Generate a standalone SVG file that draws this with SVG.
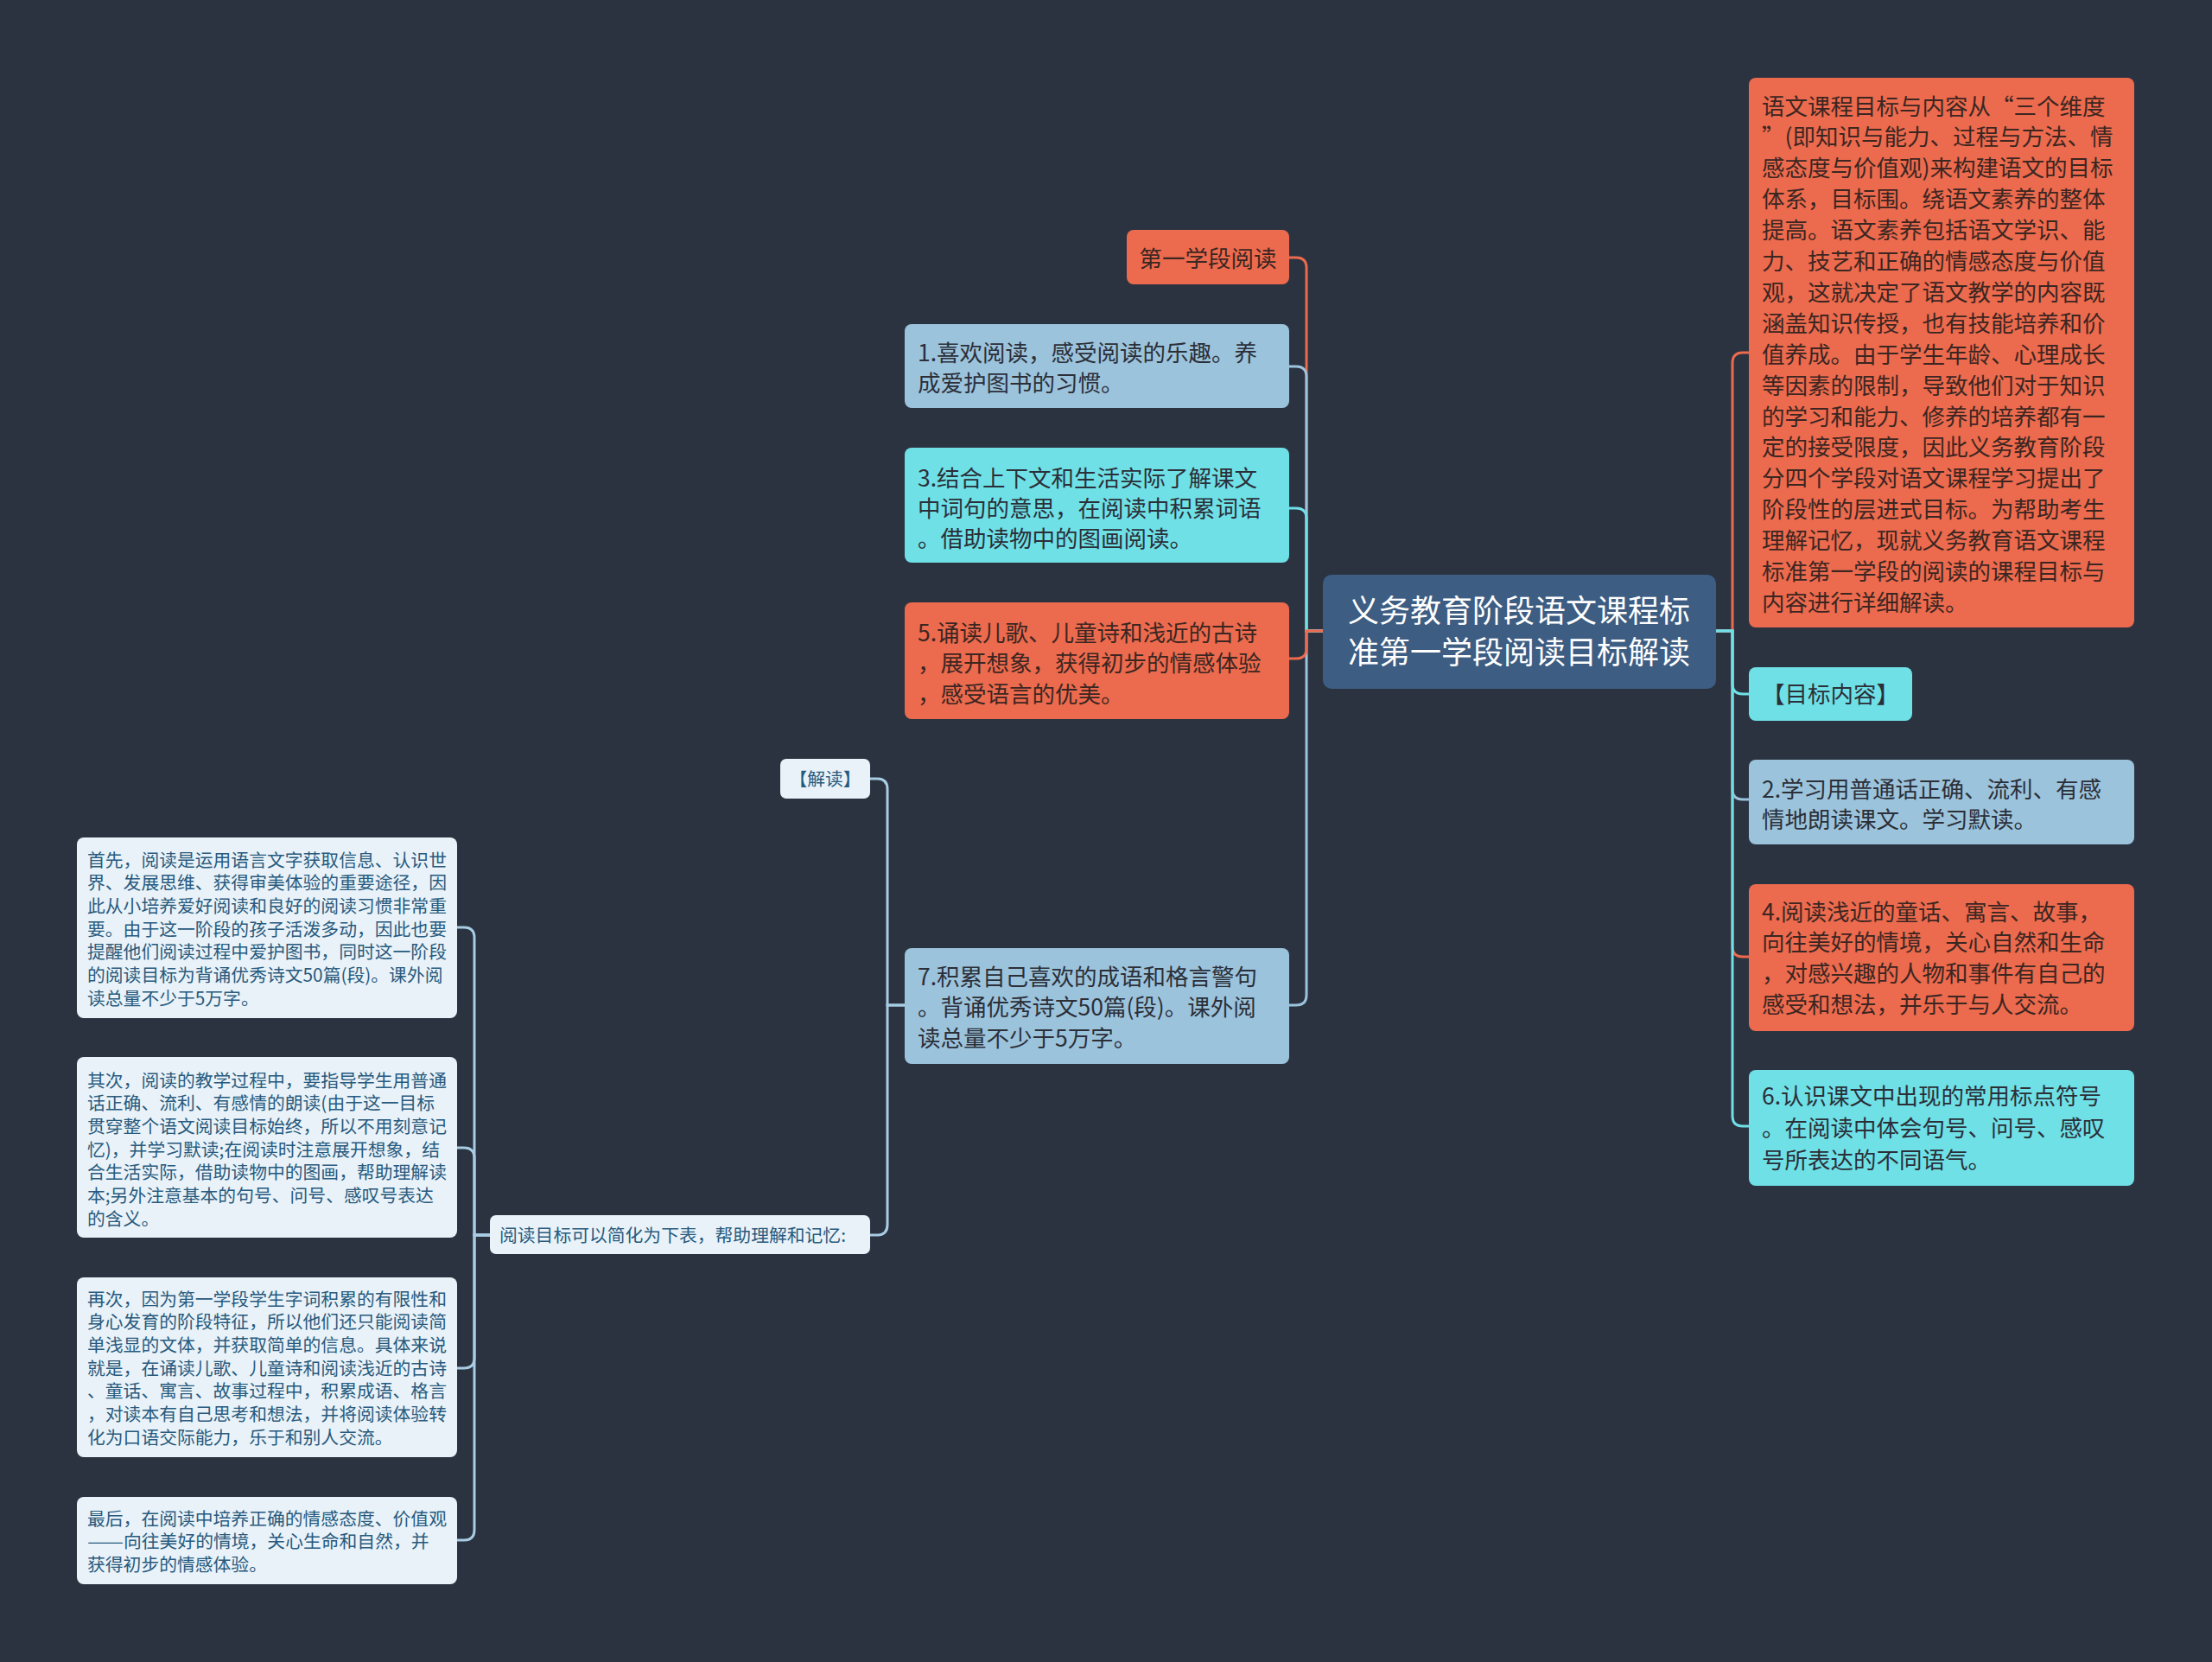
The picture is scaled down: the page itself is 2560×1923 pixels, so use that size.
<svg xmlns="http://www.w3.org/2000/svg" width="2560" height="1923" viewBox="0 0 2560 1923">
<style>
text{font-family:"Noto Sans CJK SC","Noto Sans",sans-serif;}
.c{fill:none;stroke-width:3;stroke-linecap:round;}
.or{fill:#ec6a4d;}
.lb{fill:#9cc3dc;}
.cy{fill:#6fe0e6;}
.wh{fill:#e9f2f8;}
.ctr{fill:#3d5d82;}
.t26{font-size:26.5px;fill:#2b2f38;}
.tor{font-size:26.5px;fill:#3b2622;}
.t21{font-size:20.8px;fill:#285a7e;}
</style>
<rect width="2560" height="1923" fill="#2b3341"/>
<g id="connectors">
  <path class="c" stroke="#ec6a4d" d="M1531 730 H1512 V310 Q1512 298 1500 298 H1492"/>
  <path class="c" stroke="#9cc3dc" d="M1531 730 H1512 V436 Q1512 424 1500 424 H1492"/>
  <path class="c" stroke="#6fe0e6" d="M1531 730 H1512 V600 Q1512 588 1500 588 H1492"/>
  <path class="c" stroke="#9cc3dc" d="M1531 730 H1512 V1151 Q1512 1163 1500 1163 H1492"/>
  <path class="c" stroke="#ec6a4d" d="M1531 730 H1512 V750 Q1512 762 1500 762 H1492"/>
  <path class="c" stroke="#ec6a4d" d="M1986 730 H2005 V420 Q2005 408 2017 408 H2024"/>
  <path class="c" stroke="#9cc3dc" d="M1986 730 H2005 V913 Q2005 925 2017 925 H2024"/>
  <path class="c" stroke="#ec6a4d" d="M1986 730 H2005 V1095 Q2005 1107 2017 1107 H2024"/>
  <path class="c" stroke="#6fe0e6" d="M1986 730 H2005 V791 Q2005 803 2017 803 H2024"/>
  <path class="c" stroke="#6fe0e6" d="M1986 730 H2005 V1291 Q2005 1303 2017 1303 H2024"/>
  <path class="c" stroke="#a8cce3" d="M1047 1163 H1027 V913 Q1027 901 1015 901 H1007"/>
  <path class="c" stroke="#a8cce3" d="M1047 1163 H1027 V1417 Q1027 1429 1015 1429 H1007"/>
  <path class="c" stroke="#a8cce3" d="M567 1429 H549 V1085 Q549 1073 537 1073 H529"/>
  <path class="c" stroke="#a8cce3" d="M567 1429 H549 V1340 Q549 1328 537 1328 H529"/>
  <path class="c" stroke="#a8cce3" d="M567 1429 H549 V1571 Q549 1583 537 1583 H529"/>
  <path class="c" stroke="#a8cce3" d="M567 1429 H549 V1770 Q549 1782 537 1782 H529"/>
</g>
<g id="center">
  <rect class="ctr" x="1531" y="665" width="455" height="132" rx="10"/>
  <text x="1758" y="720" font-size="36" fill="#ffffff" text-anchor="middle">义务教育阶段语文课程标</text>
  <text x="1758" y="768" font-size="36" fill="#ffffff" text-anchor="middle">准第一学段阅读目标解读</text>
</g>
<g id="n-stage1">
  <rect class="or" x="1304" y="266" width="188" height="63" rx="8"/>
  <text class="tor" x="1398" y="309" text-anchor="middle">第一学段阅读</text>
</g>
<g id="n1">
  <rect class="lb" x="1047" y="375" width="445" height="97" rx="8"/>
  <text class="t26" x="1062"><tspan x="1062" y="417.5">1.喜欢阅读，感受阅读的乐趣。养</tspan><tspan x="1062" y="452.5">成爱护图书的习惯。</tspan></text>
</g>
<g id="n3">
  <rect class="cy" x="1047" y="518" width="445" height="133" rx="8"/>
  <text class="t26" x="1062"><tspan x="1062" y="562.5">3.结合上下文和生活实际了解课文</tspan><tspan x="1062" y="597.5">中词句的意思，在阅读中积累词语</tspan><tspan x="1062" y="633">。借助读物中的图画阅读。</tspan></text>
</g>
<g id="n5">
  <rect class="or" x="1047" y="697" width="445" height="135" rx="8"/>
  <text class="tor" x="1062"><tspan x="1062" y="741.5">5.诵读儿歌、儿童诗和浅近的古诗</tspan><tspan x="1062" y="777">，展开想象，获得初步的情感体验</tspan><tspan x="1062" y="812.5">，感受语言的优美。</tspan></text>
</g>
<g id="n7">
  <rect class="lb" x="1047" y="1097" width="445" height="134" rx="8"/>
  <text class="t26" x="1062"><tspan x="1062" y="1139.5">7.积累自己喜欢的成语和格言警句</tspan><tspan x="1062" y="1175">。背诵优秀诗文50篇(段)。课外阅</tspan><tspan x="1062" y="1211">读总量不少于5万字。</tspan></text>
</g>
<g id="n-jiedu">
  <rect class="wh" x="903" y="878" width="104" height="46" rx="7"/>
  <text class="t21" x="955" y="908.5" text-anchor="middle" font-size="20">【解读】</text>
</g>
<g id="n-summary">
  <rect class="wh" x="567" y="1406" width="440" height="45" rx="7"/>
  <text class="t21" x="578" y="1436.5">阅读目标可以简化为下表，帮助理解和记忆:</text>
</g>
<g id="n-a">
  <rect class="wh" x="89" y="969" width="440" height="209" rx="8"/>
  <text class="t21"><tspan x="101" y="1002.5">首先，阅读是运用语言文字获取信息、认识世</tspan><tspan x="101" y="1029.2">界、发展思维、获得审美体验的重要途径，因</tspan><tspan x="101" y="1055.9">此从小培养爱好阅读和良好的阅读习惯非常重</tspan><tspan x="101" y="1082.6">要。由于这一阶段的孩子活泼多动，因此也要</tspan><tspan x="101" y="1109.3">提醒他们阅读过程中爱护图书，同时这一阶段</tspan><tspan x="101" y="1136">的阅读目标为背诵优秀诗文50篇(段)。课外阅</tspan><tspan x="101" y="1162.7">读总量不少于5万字。</tspan></text>
</g>
<g id="n-b">
  <rect class="wh" x="89" y="1223" width="440" height="209" rx="8"/>
  <text class="t21"><tspan x="101" y="1257.5">其次，阅读的教学过程中，要指导学生用普通</tspan><tspan x="101" y="1284.2">话正确、流利、有感情的朗读(由于这一目标</tspan><tspan x="101" y="1310.9">贯穿整个语文阅读目标始终，所以不用刻意记</tspan><tspan x="101" y="1337.6">忆)，并学习默读;在阅读时注意展开想象，结</tspan><tspan x="101" y="1364.3">合生活实际，借助读物中的图画，帮助理解读</tspan><tspan x="101" y="1391">本;另外注意基本的句号、问号、感叹号表达</tspan><tspan x="101" y="1417.7">的含义。</tspan></text>
</g>
<g id="n-c">
  <rect class="wh" x="89" y="1478" width="440" height="208" rx="8"/>
  <text class="t21"><tspan x="101" y="1510.5">再次，因为第一学段学生字词积累的有限性和</tspan><tspan x="101" y="1537.2">身心发育的阶段特征，所以他们还只能阅读简</tspan><tspan x="101" y="1563.9">单浅显的文体，并获取简单的信息。具体来说</tspan><tspan x="101" y="1590.6">就是，在诵读儿歌、儿童诗和阅读浅近的古诗</tspan><tspan x="101" y="1617.3">、童话、寓言、故事过程中，积累成语、格言</tspan><tspan x="101" y="1644">，对读本有自己思考和想法，并将阅读体验转</tspan><tspan x="101" y="1670.7">化为口语交际能力，乐于和别人交流。</tspan></text>
</g>
<g id="n-d">
  <rect class="wh" x="89" y="1732" width="440" height="101" rx="8"/>
  <text class="t21"><tspan x="101" y="1764.5">最后，在阅读中培养正确的情感态度、价值观</tspan><tspan x="101" y="1791" textLength="42" lengthAdjust="spacingAndGlyphs">——</tspan><tspan x="143" y="1791">向往美好的情境，关心生命和自然，并</tspan><tspan x="101" y="1817.5">获得初步的情感体验。</tspan></text>
</g>
<g id="n-intro">
  <rect class="or" x="2024" y="90" width="446" height="636" rx="8"/>
  <text class="tor"><tspan x="2039" y="132.5">语文课程目标与内容从“三个维度</tspan><tspan x="2039" y="168.4">”(即知识与能力、过程与方法、情</tspan><tspan x="2039" y="204.3">感态度与价值观)来构建语文的目标</tspan><tspan x="2039" y="240.2">体系，目标围。绕语文素养的整体</tspan><tspan x="2039" y="276.1">提高。语文素养包括语文学识、能</tspan><tspan x="2039" y="312">力、技艺和正确的情感态度与价值</tspan><tspan x="2039" y="347.9">观，这就决定了语文教学的内容既</tspan><tspan x="2039" y="383.8">涵盖知识传授，也有技能培养和价</tspan><tspan x="2039" y="419.7">值养成。由于学生年龄、心理成长</tspan><tspan x="2039" y="455.6">等因素的限制，导致他们对于知识</tspan><tspan x="2039" y="491.5">的学习和能力、修养的培养都有一</tspan><tspan x="2039" y="527.4">定的接受限度，因此义务教育阶段</tspan><tspan x="2039" y="563.3">分四个学段对语文课程学习提出了</tspan><tspan x="2039" y="599.2">阶段性的层进式目标。为帮助考生</tspan><tspan x="2039" y="635.1">理解记忆，现就义务教育语文课程</tspan><tspan x="2039" y="671">标准第一学段的阅读的课程目标与</tspan><tspan x="2039" y="706.9">内容进行详细解读。</tspan></text>
</g>
<g id="n-mubiao">
  <rect class="cy" x="2024" y="772" width="189" height="62" rx="8"/>
  <text class="t26" x="2118.5" y="812.5" text-anchor="middle">【目标内容】</text>
</g>
<g id="n2">
  <rect class="lb" x="2024" y="879" width="446" height="98" rx="8"/>
  <text class="t26"><tspan x="2039" y="922.5">2.学习用普通话正确、流利、有感</tspan><tspan x="2039" y="957.5">情地朗读课文。学习默读。</tspan></text>
</g>
<g id="n4">
  <rect class="or" x="2024" y="1023" width="446" height="170" rx="8"/>
  <text class="tor"><tspan x="2039" y="1064.5">4.阅读浅近的童话、寓言、故事，</tspan><tspan x="2039" y="1100">向往美好的情境，关心自然和生命</tspan><tspan x="2039" y="1136">，对感兴趣的人物和事件有自己的</tspan><tspan x="2039" y="1171.5">感受和想法，并乐于与人交流。</tspan></text>
</g>
<g id="n6">
  <rect class="cy" x="2024" y="1238" width="446" height="134" rx="8"/>
  <text class="t26"><tspan x="2039" y="1277.5">6.认识课文中出现的常用标点符号</tspan><tspan x="2039" y="1314.5">。在阅读中体会句号、问号、感叹</tspan><tspan x="2039" y="1351.5">号所表达的不同语气。</tspan></text>
</g>
</svg>
